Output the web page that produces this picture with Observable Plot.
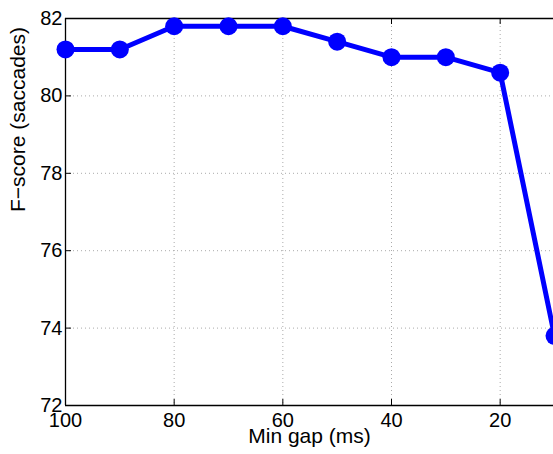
<!DOCTYPE html>
<html>
<head>
<meta charset="utf-8">
<script src="https://cdn.jsdelivr.net/npm/d3@7"></script>
<script src="https://cdn.jsdelivr.net/npm/@observablehq/plot@0.6"></script>
<style>
  html, body { margin: 0; padding: 0; background: #fff; }
  #chart { width: 553px; height: 454px; overflow: hidden; }
</style>
</head>
<body>
<div id="chart"></div>
<script>
const gaps = [100, 90, 80, 70, 60, 50, 40, 30, 20, 10];
const fscore = [81.2, 81.2, 81.8, 81.8, 81.8, 81.4, 81.0, 81.0, 80.6, 73.8];
const xTicks = [100, 80, 60, 40, 20];
const yTicks = [72, 74, 76, 78, 80, 82];
const xLabel = "Min gap (ms)";
const yLabel = "F\u2212score (saccades)";

const data = gaps.map((g, i) => ({gap: g, f: fscore[i]}));
const innerX = xTicks.filter(t => t !== 100);
const innerY = yTicks.filter(t => t !== 72 && t !== 82);

const chart = Plot.plot({
  width: 553,
  height: 454,
  marginLeft: 65,
  marginTop: 18,
  marginBottom: 49,
  marginRight: 0,
  style: {fontFamily: "'Liberation Sans', Arial, Helvetica, sans-serif", fontSize: "20px", color: "#000", background: "#fff"},
  x: {domain: [100, 10], range: [65, 554], ticks: xTicks, tickSize: 0, tickPadding: 7, label: null, tickFormat: d => String(d)},
  y: {domain: [72, 82], ticks: yTicks, tickSize: 0, tickPadding: 3, label: null, tickFormat: d => String(d)},
  marks: [
    Plot.ruleX(innerX, {stroke: "#aaa", strokeDasharray: "1,3", strokeWidth: 1}),
    Plot.ruleY(innerY, {x1: 100, x2: 10, stroke: "#aaa", strokeDasharray: "1,3", strokeWidth: 1}),
    Plot.ruleX(innerX, {stroke: "#000", strokeWidth: 1, insetTop: 381}),
    Plot.ruleX(innerX, {stroke: "#000", strokeWidth: 1, insetBottom: 381}),
    Plot.ruleY(innerY, {x1: 100, x2: 10, stroke: "#000", strokeWidth: 1, insetRight: 483}),
    Plot.ruleY([72, 82], {x1: 100, x2: 10, stroke: "#000", strokeWidth: 1.3}),
    Plot.ruleX([100], {stroke: "#000", strokeWidth: 1.3}),
    Plot.line(data, {x: "gap", y: "f", stroke: "#0000ff", strokeWidth: 5, strokeLinejoin: "round"}),
    Plot.dot(data, {x: "gap", y: "f", r: 9, fill: "#0000ff", stroke: "none"}),
    Plot.text([xLabel], {frameAnchor: "bottom", dy: 37.5, fontSize: 21, fill: "#000"}),
    Plot.text([yLabel], {frameAnchor: "left", rotate: -90, dx: -47, fontSize: 21, fill: "#000"})
  ]
});
document.getElementById("chart").append(chart);
</script>
</body>
</html>
